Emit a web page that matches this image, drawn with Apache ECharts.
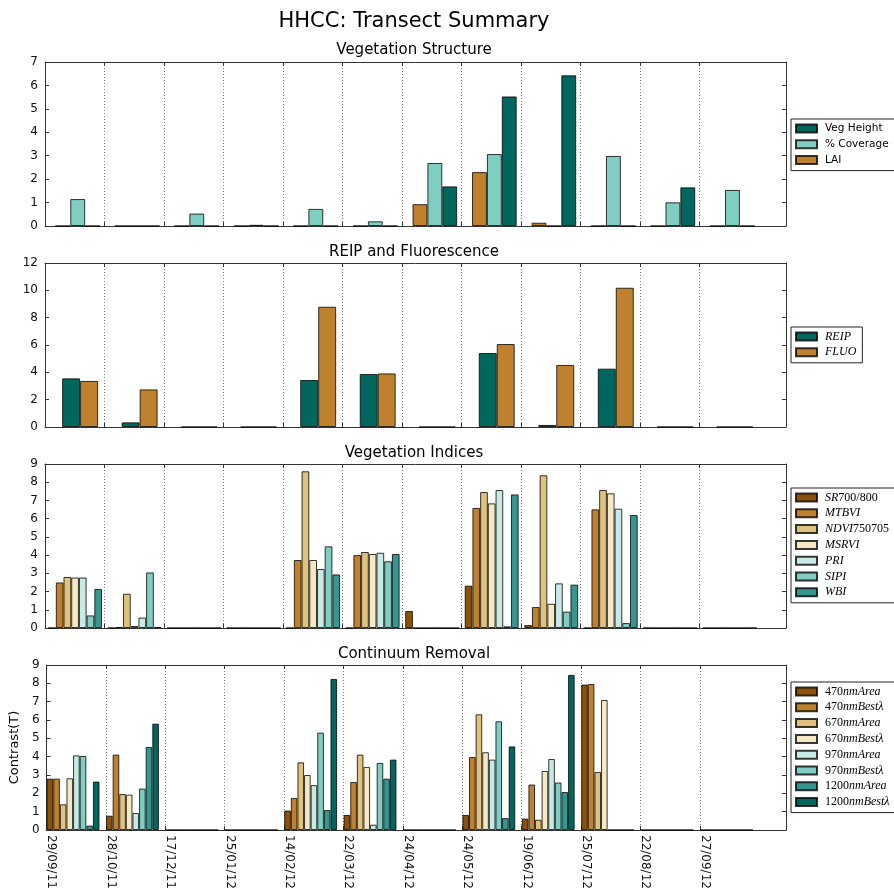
<!DOCTYPE html>
<html><head><meta charset="utf-8">
<script src="https://cdn.jsdelivr.net/npm/echarts@6/dist/echarts.min.js"></script>
<style>html,body{margin:0;padding:0;background:#fff}#c{width:894px;height:893px}</style>
</head><body><div id="c"></div>
<script>
// ---- tick labels ----
const dateLabels = ['29/09/11','28/10/11','17/12/11','25/01/12','14/02/12','22/03/12','24/04/12','24/05/12','19/06/12','25/07/12','22/08/12','27/09/12'];

// ---- Vegetation Structure ----
const lai        = [0, 0, 0, 0, 0, 0, 0.93, 2.30, 0.14, 0, 0, 0];
const coverage   = [1.15, 0, 0.53, 0.05, 0.73, 0.20, 2.69, 3.07, 0, 2.99, 1.01, 1.54];
const vegHeight  = [0, 0, 0, 0, 0, 0, 1.69, 5.53, 6.43, 0, 1.65, 0];

// ---- REIP and Fluorescence ----
const reip = [3.56, 0.34, 0, 0, 3.44, 3.88, 0, 5.41, 0.15, 4.27, 0, 0];
const fluo = [3.37, 2.75, 0, 0, 8.80, 3.92, 0, 6.07, 4.54, 10.19, 0, 0];

// ---- Vegetation Indices ----
const sr700800   = [0, 0, 0, 0, 0, 0, 0.93, 2.32, 0.16, 0, 0, 0];
const mtbvi      = [2.50, 0.05, 0, 0, 3.73, 4.00, 0, 6.59, 1.15, 6.51, 0, 0];
const ndvi750705 = [2.80, 1.88, 0, 0, 8.60, 4.17, 0, 7.46, 8.38, 7.57, 0, 0];
const msrvi      = [2.77, 0.11, 0, 0, 3.73, 4.06, 0, 6.84, 1.33, 7.39, 0, 0];
const pri        = [2.77, 0.57, 0, 0, 3.24, 4.13, 0, 7.57, 2.45, 6.55, 0, 0];
const sipi       = [0.69, 3.05, 0, 0, 4.48, 3.66, 0, 0.09, 0.90, 0.27, 0, 0];
const wbi        = [2.14, 0.05, 0, 0, 2.94, 4.06, 0, 7.33, 2.38, 6.20, 0, 0];

// ---- Continuum Removal ----
const area470  = [2.80, 0.78, 0, 0, 1.06, 0.82, 0, 0.82, 0.62, 7.93, 0, 0];
const best470  = [2.80, 4.11, 0, 0, 1.75, 2.62, 0, 3.98, 2.48, 7.96, 0, 0];
const area670  = [1.40, 1.96, 0, 0, 3.69, 4.11, 0, 6.31, 0.56, 3.16, 0, 0];
const best670  = [2.82, 1.93, 0, 0, 3.00, 3.44, 0, 4.24, 3.22, 7.09, 0, 0];
const area970  = [4.07, 0.93, 0, 0, 2.45, 0.29, 0, 3.84, 3.87, 0, 0, 0];
const best970  = [4.04, 2.26, 0, 0, 5.31, 3.66, 0, 5.93, 2.59, 0, 0, 0];
const area1200 = [0.24, 4.53, 0, 0, 1.09, 2.80, 0, 0.65, 2.07, 0, 0, 0];
const best1200 = [2.64, 5.80, 0, 0, 8.24, 3.84, 0, 4.56, 8.46, 0, 0, 0];

// ---- palette (BrBG) ----
const C = {dbrown:'#8c510a', brown:'#bf812d', tan:'#dfc27d', ltan:'#f6e8c3', lteal:'#c7eae5', teal:'#80cdc1', mteal:'#35978f', dteal:'#01665e'};

const gridLeft = 45, gridWidth = 741, xMax = 12.45;
const unitPx = gridWidth / xMax;
const tickVals = dateLabels.map((d, i) => i);
const labelShift = 5 / unitPx;               // labels sit ~5px right of their tick
const labelVals = tickVals.map(v => v + labelShift);

const panels = [
  {title:'Vegetation Structure', titleTop:42.5, top:62, height:164, yMax:7, yInt:1, center:0.55, barFrac:0.25,
   series:[{name:'LAI', data:lai, color:C.brown},{name:'% Coverage', data:coverage, color:C.teal},{name:'Veg Height', data:vegHeight, color:C.dteal}],
   legend:['Veg Height','% Coverage','LAI'], legendTop:119, math:false},
  {title:'REIP and Fluorescence', titleTop:244.5, top:263, height:164, yMax:12, yInt:2, center:0.59, barFrac:0.302,
   series:[{name:'REIP', data:reip, color:C.dteal},{name:'FLUO', data:fluo, color:C.brown}],
   legend:['REIP','FLUO'], legendTop:327, math:true},
  {title:'Vegetation Indices', titleTop:446, top:464, height:164, yMax:9, yInt:1, center:0.505, barFrac:0.1294,
   series:[{name:'SR700/800', data:sr700800, color:C.dbrown},{name:'MTBVI', data:mtbvi, color:C.brown},{name:'NDVI750705', data:ndvi750705, color:C.tan},
           {name:'MSRVI', data:msrvi, color:C.ltan},{name:'PRI', data:pri, color:C.lteal},{name:'SIPI', data:sipi, color:C.teal},{name:'WBI', data:wbi, color:C.mteal}],
   legend:['SR700/800','MTBVI','NDVI750705','MSRVI','PRI','SIPI','WBI'], legendTop:488, math:true},
  {title:'Continuum Removal', titleTop:647, top:665, height:165, yMax:9, yInt:1, center:0.447, barFrac:0.111,
   series:[{name:'470nmArea', data:area470, color:C.dbrown},{name:'470nmBestλ', data:best470, color:C.brown},{name:'670nmArea', data:area670, color:C.tan},
           {name:'670nmBestλ', data:best670, color:C.ltan},{name:'970nmArea', data:area970, color:C.lteal},{name:'970nmBestλ', data:best970, color:C.teal},
           {name:'1200nmArea', data:area1200, color:C.mteal},{name:'1200nmBestλ', data:best1200, color:C.dteal}],
   legend:['470nmArea','470nmBestλ','670nmArea','670nmBestλ','970nmArea','970nmBestλ','1200nmArea','1200nmBestλ'], legendTop:682, math:true, yName:'Contrast(T)'}
];

function mathFmt(name) {
  return name.replace(/([0-9\/]+)|([^0-9\/]+)/g, (m, d, t) => d ? '{u|' + d + '}' : '{i|' + t + '}');
}

const axisColor = '#333';
const option = {animation:false, title:[], grid:[], xAxis:[], yAxis:[], legend:[], series:[]};
option.title.push({text:'HHCC: Transect Summary', left:414, top:11, textAlign:'center', padding:0,
  textStyle:{fontFamily:'DejaVu Sans', fontSize:21, fontWeight:'normal', color:'#000'}});

panels.forEach((p, i) => {
  const isLast = i === panels.length - 1;
  option.title.push({text:p.title, left:414, top:p.titleTop, textAlign:'center', padding:0,
    textStyle:{fontFamily:'DejaVu Sans', fontSize:15, fontWeight:'normal', color:'#000'}});
  option.grid.push({left:gridLeft, top:p.top, width:gridWidth, height:p.height});
  option.xAxis.push({type:'value', gridIndex:i, position:'bottom', min:0, max:xMax, interval:1,
    axisLine:{show:true, onZero:false, lineStyle:{color:axisColor, width:1}},
    axisTick:{show:true, inside:true, length:4, customValues:tickVals, lineStyle:{color:axisColor}},
    axisLabel:{show:isLast, customValues:labelVals, rotate:-90, margin:5,
      formatter:v => dateLabels[Math.floor(v + 1e-6)] || '', fontFamily:'DejaVu Sans', fontSize:12, color:'#111'},
    splitLine:{show:true, lineStyle:{type:[1,2], color:'#777', width:1}}});
  option.xAxis.push({type:'value', gridIndex:i, position:'top', min:0, max:xMax, interval:1,
    axisLine:{show:true, onZero:false, lineStyle:{color:axisColor, width:1}},
    axisTick:{show:true, inside:true, length:4, customValues:tickVals, lineStyle:{color:axisColor}},
    axisLabel:{show:false}, splitLine:{show:false}});
  const yl = {type:'value', gridIndex:i, position:'left', min:0, max:p.yMax, interval:p.yInt,
    axisLine:{show:true, onZero:false, lineStyle:{color:axisColor, width:1}},
    axisTick:{show:true, inside:true, length:4, lineStyle:{color:axisColor}},
    axisLabel:{show:true, margin:7, fontFamily:'DejaVu Sans', fontSize:12, color:'#111'},
    splitLine:{show:false}};
  if (p.yName) {
    yl.name = p.yName; yl.nameLocation = 'middle'; yl.nameGap = 17; yl.nameRotate = 90;
    yl.nameTextStyle = {fontFamily:'DejaVu Sans', fontSize:13, color:'#000'};
  }
  option.yAxis.push(yl);
  option.yAxis.push({type:'value', gridIndex:i, position:'right', min:0, max:p.yMax, interval:p.yInt,
    axisLine:{show:true, onZero:false, lineStyle:{color:axisColor, width:1}},
    axisTick:{show:true, inside:true, length:4, lineStyle:{color:axisColor}},
    axisLabel:{show:false}, splitLine:{show:false}});

  p.series.forEach(s => {
    option.series.push({type:'bar', name:s.name, xAxisIndex:i*2, yAxisIndex:i*2,
      barWidth:p.barFrac * unitPx, barGap:'0%',
      data:s.data.map((v, g) => [g + p.center, v]),
      itemStyle:{color:s.color, borderColor:'rgba(0,0,0,0.78)', borderWidth:1},
      emphasis:{disabled:true}});
  });

  const rich = {
    u:{fontFamily:'Liberation Serif', fontSize:12, fontStyle:'normal', lineHeight:12, color:'#000'},
    i:{fontFamily:'Liberation Serif', fontSize:12, fontStyle:'italic', lineHeight:12, color:'#000'}
  };
  option.legend.push({orient:'vertical', left:791, top:p.legendTop, data:p.legend,
    itemWidth:21, itemHeight:8, itemGap:3.8, padding:[3.5,6,4.5,4],
    backgroundColor:'#fff', borderColor:'#222', borderWidth:1, borderRadius:0,
    icon:'rect', selectedMode:false,
    textStyle: p.math ? {padding:[0,0,0,3], lineHeight:12, rich:rich}
                      : {fontFamily:'DejaVu Sans', fontSize:10.5, lineHeight:12, color:'#000', padding:[0,0,0,3]},
    formatter: p.math ? mathFmt : '{name}'});
});

const chart = echarts.init(document.getElementById('c'), null, {renderer:'canvas'});
chart.setOption(option);
</script></body></html>
